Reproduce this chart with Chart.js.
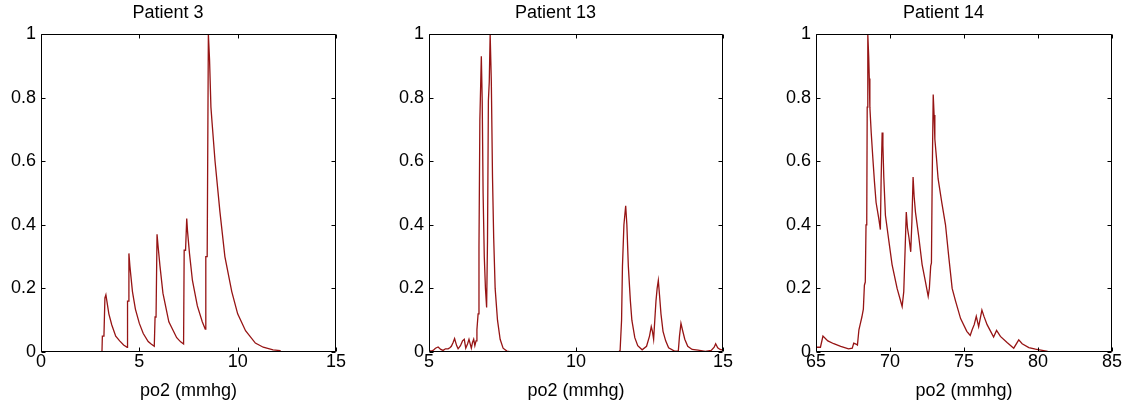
<!DOCTYPE html>
<html>
<head>
<meta charset="utf-8">
<script src="https://cdn.jsdelivr.net/npm/chart.js@4.4.0/dist/chart.umd.min.js"></script>
<style>
  body { margin: 0; background: #fff; width: 1123px; height: 408px; position: relative; overflow: hidden; }
  canvas { position: absolute; top: 0; }
</style>
</head>
<body>
<canvas id="grafico3" width="347" height="408" style="left:0px"></canvas>
<canvas id="grafico13" width="346" height="408" style="left:388px"></canvas>
<canvas id="grafico14" width="348" height="408" style="left:775px"></canvas>
<script>
// Patient 3
const po2Patient3 = [0, 3.1, 3.12, 3.2, 3.25, 3.3, 3.35, 3.45, 3.6, 3.8, 4.0, 4.2, 4.38,
  4.4, 4.44, 4.47, 4.52, 4.65, 4.8, 5.0, 5.2, 5.45, 5.6, 5.76,
  5.8, 5.85, 5.9, 5.95, 6.05, 6.2, 6.5, 6.9, 7.1, 7.25,
  7.28, 7.35, 7.41, 7.45, 7.55, 7.7, 7.95, 8.2, 8.35,
  8.38, 8.45, 8.51, 8.57, 8.64, 8.7, 8.85, 9.1, 9.35, 9.7, 10.0, 10.4, 10.9, 11.3, 11.8, 12.15, 12.2, 15];
const valPatient3 = [0, 0, 0.05, 0.05, 0.17, 0.18, 0.16, 0.12, 0.085, 0.05, 0.035, 0.022, 0.015,
  0.16, 0.16, 0.31, 0.27, 0.19, 0.135, 0.09, 0.058, 0.033, 0.025, 0.018,
  0.11, 0.11, 0.37, 0.335, 0.27, 0.185, 0.095, 0.045, 0.032, 0.025,
  0.32, 0.32, 0.42, 0.38, 0.31, 0.225, 0.145, 0.095, 0.072,
  0.3, 0.3, 1.0, 0.92, 0.77, 0.72, 0.6, 0.44, 0.3, 0.19, 0.12, 0.067, 0.028, 0.015, 0.007, 0.004, 0, 0];

// Patient 13
const po2Patient13 = [5.0, 5.07, 5.14, 5.22, 5.31, 5.4, 5.48, 5.56, 5.65, 5.72, 5.76, 5.82, 5.87, 5.94, 5.99,
  6.07, 6.14, 6.2, 6.25, 6.31, 6.36, 6.44, 6.48, 6.52, 6.56, 6.6, 6.63, 6.67, 6.7, 6.73, 6.78, 6.81,
  6.84, 6.88, 6.92, 6.96, 6.99, 7.02, 7.05, 7.08, 7.12, 7.16, 7.2, 7.25, 7.33, 7.42, 7.52, 7.65, 7.8,
  11.45, 11.5, 11.55, 11.58, 11.63, 11.69, 11.73, 11.78, 11.85, 11.9, 12.0, 12.1, 12.25, 12.4, 12.5,
  12.56, 12.6, 12.64, 12.68, 12.72, 12.76, 12.8, 12.84, 12.89, 12.96, 13.05, 13.15, 13.35, 13.48,
  13.52, 13.57, 13.62, 13.7, 13.8, 13.95, 14.15, 14.4, 14.6, 14.7, 14.75, 14.82, 14.9, 15];
const valPatient13 = [0.005, 0.003, 0.005, 0.012, 0.016, 0.008, 0.005, 0.01, 0.01, 0.014, 0.018, 0.03, 0.042, 0.02, 0.01,
  0.02, 0.035, 0.04, 0.012, 0.025, 0.04, 0.012, 0.03, 0.04, 0.02, 0.035, 0.07, 0.12, 0.33, 0.73, 0.93, 0.79,
  0.5, 0.3, 0.2, 0.14, 0.35, 0.79, 0.85, 1.0, 0.85, 0.55, 0.36, 0.2, 0.1, 0.04, 0.012, 0.003, 0,
  0, 0.005, 0.1, 0.27, 0.4, 0.46, 0.4, 0.27, 0.16, 0.1, 0.045, 0.02, 0.007, 0.018, 0.05,
  0.08, 0.065, 0.04, 0.1, 0.16, 0.2, 0.225, 0.18, 0.12, 0.065, 0.035, 0.013, 0.003, 0.003,
  0.05, 0.09, 0.07, 0.04, 0.018, 0.008, 0.006, 0.002, 0.005, 0.015, 0.026, 0.013, 0.008, 0.006];

// Patient 14
const po2Patient14 = [65.0, 65.3, 65.47, 65.8, 66.2, 66.67, 67.2, 67.45, 67.55, 67.7, 67.8, 67.9, 68.0, 68.1,
  68.2, 68.27, 68.33, 68.38, 68.43, 68.46, 68.5, 68.56, 68.6, 68.64, 68.73, 68.84, 68.95, 69.06, 69.24,
  69.35, 69.4, 69.47, 69.52, 69.58, 69.69, 69.92, 70.14, 70.48, 70.82, 70.93, 71.02, 71.1, 71.18, 71.28,
  71.4, 71.48, 71.56, 71.63, 71.72, 71.95, 72.17, 72.4, 72.58, 72.66, 72.75, 72.8, 72.85, 72.92, 72.98,
  73.03, 73.14, 73.25, 73.5, 73.75, 73.98, 74.2, 74.43, 74.77, 75.19, 75.42, 75.55, 75.69, 75.83, 75.99,
  76.21, 76.35, 76.56, 76.8, 77.0, 77.2, 77.46, 77.91, 78.36, 78.7, 78.93, 79.38, 79.83, 80.2, 80.65, 81, 85];
const valPatient14 = [0.015, 0.015, 0.05, 0.035, 0.026, 0.018, 0.01, 0.012, 0.028, 0.025, 0.022, 0.07, 0.09, 0.11,
  0.135, 0.21, 0.22, 0.4, 0.42, 0.77, 1.0, 0.93, 0.86, 0.77, 0.69, 0.61, 0.535, 0.47, 0.42,
  0.385, 0.54, 0.69, 0.65, 0.55, 0.43, 0.35, 0.275, 0.2, 0.143, 0.19, 0.32, 0.44, 0.39, 0.36,
  0.315, 0.41, 0.55, 0.49, 0.44, 0.36, 0.275, 0.22, 0.175, 0.2, 0.27, 0.28, 0.54, 0.81, 0.745,
  0.67, 0.61, 0.545, 0.47, 0.4, 0.295, 0.2, 0.16, 0.105, 0.065, 0.052, 0.07, 0.086, 0.112, 0.08,
  0.132, 0.112, 0.086, 0.065, 0.047, 0.068, 0.049, 0.03, 0.012, 0.038, 0.026, 0.014, 0.009, 0.006, 0.002, 0, 0];

const yTicks = [0, 0.2, 0.4, 0.6, 0.8, 1];

Chart.defaults.font.family = "'Liberation Sans', Arial, sans-serif";
Chart.defaults.font.size = 18;
Chart.defaults.color = '#000';

// box around the axes with MATLAB-style inward ticks on all four sides
const caixaComTicks = {
  id: 'caixaComTicks',
  afterDatasetsDraw(chart) {
    const {ctx, chartArea, scales} = chart;
    const L = Math.round(chartArea.left) + 0.5;
    const R = Math.round(chartArea.right) - 0.5;
    const T = Math.round(chartArea.top) + 0.5;
    const B = Math.round(chartArea.bottom) - 0.5;
    ctx.save();
    ctx.strokeStyle = '#000';
    ctx.lineWidth = 1;
    ctx.beginPath();
    ctx.rect(L, T, R - L, B - T);
    scales.x.ticks.forEach(t => {
      const px = Math.round(scales.x.getPixelForValue(t.value)) + 0.5;
      ctx.moveTo(px, B); ctx.lineTo(px, B - 4);
      ctx.moveTo(px, T); ctx.lineTo(px, T + 4);
    });
    scales.y.ticks.forEach(t => {
      const py = Math.round(scales.y.getPixelForValue(t.value)) + 0.5;
      ctx.moveTo(L, py); ctx.lineTo(L + 4, py);
      ctx.moveTo(R, py); ctx.lineTo(R - 4, py);
    });
    ctx.stroke();
    ctx.restore();
  }
};

function criaGrafico(id, titulo, xs, ys, xMin, xMax) {
  const pontos = xs.map((x, i) => ({x: x, y: ys[i]}));
  return new Chart(document.getElementById(id), {
    type: 'line',
    data: {
      datasets: [{
        data: pontos,
        borderColor: 'rgb(150, 20, 20)',
        borderWidth: 1.3,
        pointRadius: 0,
        tension: 0,
        fill: false
      }]
    },
    options: {
      responsive: false,
      animation: false,
      events: [],
      layout: {padding: {top: 0, right: 11, bottom: 0, left: 0}},
      plugins: {
        legend: {display: false},
        tooltip: {enabled: false},
        title: {
          display: true,
          text: titulo,
          font: {size: 18, weight: 'normal'},
          color: '#000',
          padding: {top: 2, bottom: 10.4}
        }
      },
      scales: {
        x: {
          type: 'linear',
          min: xMin,
          max: xMax,
          grid: {display: false, drawTicks: false},
          border: {display: false},
          ticks: {stepSize: 5, maxRotation: 0, autoSkip: false, padding: -1, color: '#000'},
          title: {display: true, text: 'po2 (mmhg)', color: '#000', font: {size: 18}, padding: {top: 0, bottom: 6.5}},
          afterFit(scale) { scale.height = 56; }
        },
        y: {
          type: 'linear',
          min: 0,
          max: 1,
          grid: {display: false, drawTicks: false},
          border: {display: false},
          afterBuildTicks(scale) { scale.ticks = yTicks.map(v => ({value: v})); },
          ticks: {padding: 5, color: '#000', callback: v => String(v)},
          afterFit(scale) { scale.width = 41; }
        }
      }
    },
    plugins: [caixaComTicks]
  });
}

criaGrafico('grafico3', 'Patient 3', po2Patient3, valPatient3, 0, 15);
criaGrafico('grafico13', 'Patient 13', po2Patient13, valPatient13, 5, 15);
criaGrafico('grafico14', 'Patient 14', po2Patient14, valPatient14, 65, 85);
</script>
</body>
</html>
